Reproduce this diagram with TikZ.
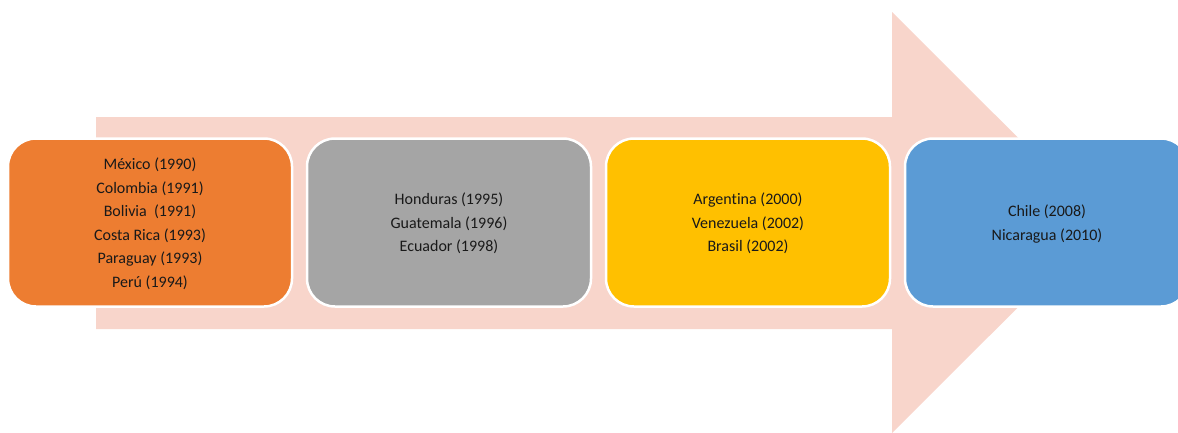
\documentclass[tikz,border=0pt]{standalone}
\usepackage{fontspec}
\setmainfont{Carlito}[Ligatures=NoCommon]
\usetikzlibrary{positioning}

\definecolor{arrowPink}{HTML}{F8D5CB}
\definecolor{boxOrange}{HTML}{ED7D31}
\definecolor{boxGray}{HTML}{A5A5A5}
\definecolor{boxYellow}{HTML}{FFC000}
\definecolor{boxBlue}{HTML}{5B9BD5}

\begin{document}
\begin{tikzpicture}[
			x=1pt, y=-1pt,
			font=\fontsize{16}{23.5}\selectfont,
			% Node styles
			stageBox/.style={rectangle, rounded corners=28pt, draw=white, line width=2.5pt,
				minimum width=284pt, minimum height=168pt, align=center, text=black!90,
				text depth=0pt},
			% Shape styles
			bigArrow/.style={fill=arrowPink, draw=none},
			node distance=12.5pt
			]
			
			\useasboundingbox (0,0) rectangle (1178,432);
			\clip (0,0) rectangle (1178,432);
			
			% =========================================================
			% 1. THE BACKGROUND ARROW
			% =========================================================
			
			\fill[bigArrow] (96,117) -- (892,117) -- (892,12) -- (1103,222.5)
				-- (892,433) -- (892,329) -- (96,329) -- cycle;
			
			% =========================================================
			% 2. THE FOUR STAGES
			% =========================================================
			
			\node[stageBox, fill=boxOrange] (stageA) at (150,222.5) {
				México (1990)\\
				Colombia (1991)\\
				Bolivia~~(1991)\\
				Costa Rica (1993)\\
				Paraguay (1993)\\
				Perú (1994)
			};
			
			\node[stageBox, fill=boxGray, right=of stageA] (stageB) {
				Honduras (1995)\\
				Guatemala (1996)\\
				Ecuador (1998)
			};
			
			\node[stageBox, fill=boxYellow, right=of stageB] (stageC) {
				Argentina (2000)\\
				Venezuela (2002)\\
				Brasil (2002)
			};
			
			\node[stageBox, fill=boxBlue, right=of stageC] (stageD) {
				Chile (2008)\\
				Nicaragua (2010)
			};
			
		\end{tikzpicture}
\end{document}
